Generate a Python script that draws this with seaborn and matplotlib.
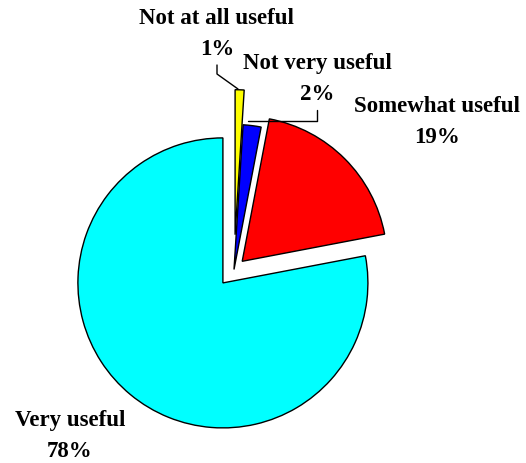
import matplotlib
matplotlib.use("Agg")
import matplotlib.pyplot as plt
import seaborn as sns

sns.set_style("white")
plt.rcParams['font.family'] = ['Liberation Serif', 'DejaVu Serif']

categories = ["Not at all useful", "Not very useful", "Somewhat useful", "Very useful"]
values = [1, 2, 19, 78]
colors = ["#FFFF00", "#0000FF", "#FF0000", "#00FFFF"]
explode = [0.24, 0.0, 0.08, 0.12]

W, H = 526, 464
CX, CY, R = 234.0, 270.5, 145.0  # pie centre / radius in image pixels


def P(px, py):
    return ((px - CX) / R, (CY - py) / R)


fig = plt.figure(figsize=(W / 100, H / 100), dpi=100)
ax = fig.add_axes([0, 0, 1, 1])
ax.pie(values, colors=colors, explode=explode, startangle=90, counterclock=False,
       radius=1, center=(0, 0),
       wedgeprops=dict(edgecolor="black", linewidth=1.0))
ax.set_xlim(P(0, 0)[0], P(W, 0)[0])
ax.set_ylim(P(0, H)[1], P(0, 0)[1])
ax.set_aspect("equal")
ax.axis("off")

fs = 16.5
label_pos = [(217, 34), (317, 79), (437, 122), (70, 436)]
for cat, val, (lx, ly) in zip(categories, values, label_pos):
    x, y = P(lx, ly)
    ax.text(x, y, f"{cat}\n{val}%", ha="center", va="center", fontsize=fs,
            fontweight="bold", linespacing=1.68, color="black")

# leader lines
lines = [
    [(217, 66), (217, 75), (238, 90)],
    [(317, 111), (317, 122), (248, 122)],
]
for pts in lines:
    xs, ys = zip(*[P(a, b) for a, b in pts])
    ax.plot(xs, ys, color="black", linewidth=1.0)

fig.savefig("out.png", dpi=100)
